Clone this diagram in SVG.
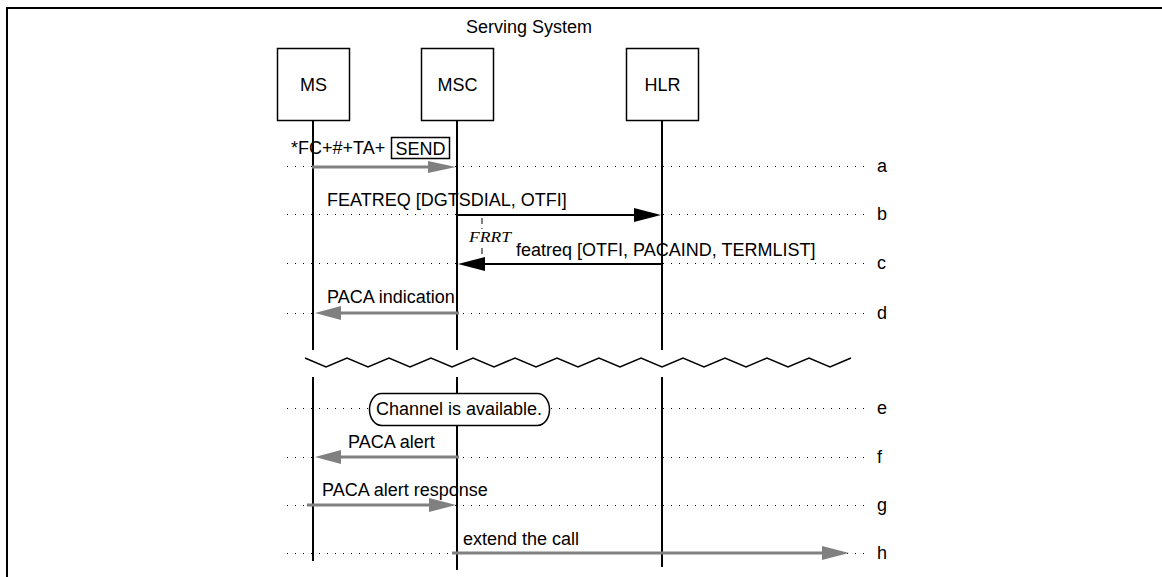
<svg xmlns="http://www.w3.org/2000/svg" width="1162" height="577" viewBox="0 0 1162 577">
<style>
  text { font-family: "Liberation Sans", Arial, sans-serif; font-size: 18px; fill: #000; }
  .box { fill: #fff; stroke: #000; stroke-width: 1.5; }
  .life { stroke: #000; stroke-width: 2; }
  .dot { stroke: #000; stroke-width: 1; stroke-dasharray: 1 7; }
  .gray { stroke: #808080; stroke-width: 3; }
  .grayhead { fill: #808080; }
  .blk { stroke: #000; stroke-width: 2; }
  .frrt { font-family: "Liberation Serif", "Times New Roman", serif; font-style: italic; font-size: 15px; }
</style>
<rect width="1162" height="577" fill="#fff"/>
<path d="M7 577 V8 H1162" fill="none" stroke="#000" stroke-width="2"/>
<text x="529" y="33" text-anchor="middle">Serving System</text>

<g id="dotted-rows">
  <line class="dot" x1="287" y1="166.5" x2="868" y2="166.5"/>
  <line class="dot" x1="287" y1="214.5" x2="868" y2="214.5"/>
  <line class="dot" x1="287" y1="263.5" x2="868" y2="263.5"/>
  <line class="dot" x1="287" y1="313.5" x2="868" y2="313.5"/>
  <line class="dot" x1="287" y1="408.5" x2="868" y2="408.5"/>
  <line class="dot" x1="287" y1="457.5" x2="868" y2="457.5"/>
  <line class="dot" x1="287" y1="505.5" x2="868" y2="505.5"/>
  <line class="dot" x1="287" y1="553.5" x2="868" y2="553.5"/>
  <text x="877" y="172">a</text>
  <text x="877" y="220">b</text>
  <text x="877" y="269">c</text>
  <text x="877" y="319">d</text>
  <text x="877" y="414">e</text>
  <text x="877" y="463">f</text>
  <text x="877" y="511">g</text>
  <text x="877" y="559">h</text>
</g>

<g id="MS">
  <rect class="box" x="277.5" y="48.5" width="72" height="72"/>
  <text x="313.5" y="91" text-anchor="middle">MS</text>
  <line class="life" x1="313" y1="121" x2="313" y2="350"/>
  <line class="life" x1="313" y1="377" x2="313" y2="561"/>
</g>
<g id="MSC">
  <rect class="box" x="421.5" y="48.5" width="72" height="72"/>
  <text x="457.5" y="91" text-anchor="middle">MSC</text>
  <line class="life" x1="457" y1="121" x2="457" y2="350"/>
  <line class="life" x1="457" y1="377" x2="457" y2="570"/>
</g>
<g id="HLR">
  <rect class="box" x="626.5" y="48.5" width="72" height="72"/>
  <text x="662.5" y="91" text-anchor="middle">HLR</text>
  <line class="life" x1="662" y1="121" x2="662" y2="350"/>
  <line class="life" x1="662" y1="377" x2="662" y2="567"/>
</g>

<path id="break" d="M305 358 l21 9 l21 -9 l21 9 l21 -9 l21 9 l21 -9 l21 9 l21 -9 l21 9 l21 -9 l21 9 l21 -9 l21 9 l21 -9 l21 9 l21 -9 l21 9 l21 -9 l21 9 l21 -9 l21 9 l21 -9 l21 9 l21 -9 l21 9 l21 -9" fill="none" stroke="#000" stroke-width="1.5"/>

<g id="connectors">
  <!-- a -->
  <text x="291" y="154">*FC+#+TA+</text>
  <rect x="391.5" y="137.5" width="58" height="21" fill="#fff" stroke="#000" stroke-width="1.5"/>
  <text x="420.5" y="155" text-anchor="middle">SEND</text>
  <line class="gray" x1="312" y1="167" x2="430" y2="167"/>
  <polygon class="grayhead" points="456,167 428,161 428,173"/>
  <!-- b -->
  <text x="327" y="206">FEATREQ [DGTSDIAL, OTFI]</text>
  <line class="blk" x1="457" y1="215" x2="636" y2="215"/>
  <polygon points="661,215 634,208 634,222" fill="#000"/>
  <!-- FRRT timer -->
  <line x1="482" y1="218" x2="482" y2="262" stroke="#808080" stroke-width="2" stroke-dasharray="6 4"/>
  <rect x="467" y="229" width="47" height="15" fill="#fff"/>
  <text class="frrt" x="469" y="242" textLength="42" lengthAdjust="spacingAndGlyphs">FRRT</text>
  <!-- c -->
  <text x="516" y="256">featreq [OTFI, PACAIND, TERMLIST]</text>
  <line class="blk" x1="662" y1="264" x2="484" y2="264"/>
  <polygon points="458,264 485,257 485,271" fill="#000"/>
  <!-- d -->
  <text x="327" y="303">PACA indication</text>
  <line class="gray" x1="459" y1="313" x2="338" y2="313"/>
  <polygon class="grayhead" points="315,313 341,306 341,320"/>
  <!-- e -->
  <rect x="369.5" y="393.5" width="180" height="32" rx="12" ry="16" fill="#fff" stroke="#000" stroke-width="1.5"/>
  <text x="459" y="415" text-anchor="middle">Channel is available.</text>
  <!-- f -->
  <text x="348" y="448">PACA alert</text>
  <line class="gray" x1="459" y1="457" x2="338" y2="457"/>
  <polygon class="grayhead" points="315,457 341,450 341,464"/>
  <!-- g -->
  <text x="322" y="496">PACA alert response</text>
  <line class="gray" x1="307" y1="505" x2="432" y2="505"/>
  <polygon class="grayhead" points="456,505 429,498 429,512"/>
  <!-- h -->
  <text x="463" y="545">extend the call</text>
  <line class="gray" x1="452" y1="553" x2="825" y2="553"/>
  <polygon class="grayhead" points="849,553 822,546 822,560"/>
</g>
</svg>
